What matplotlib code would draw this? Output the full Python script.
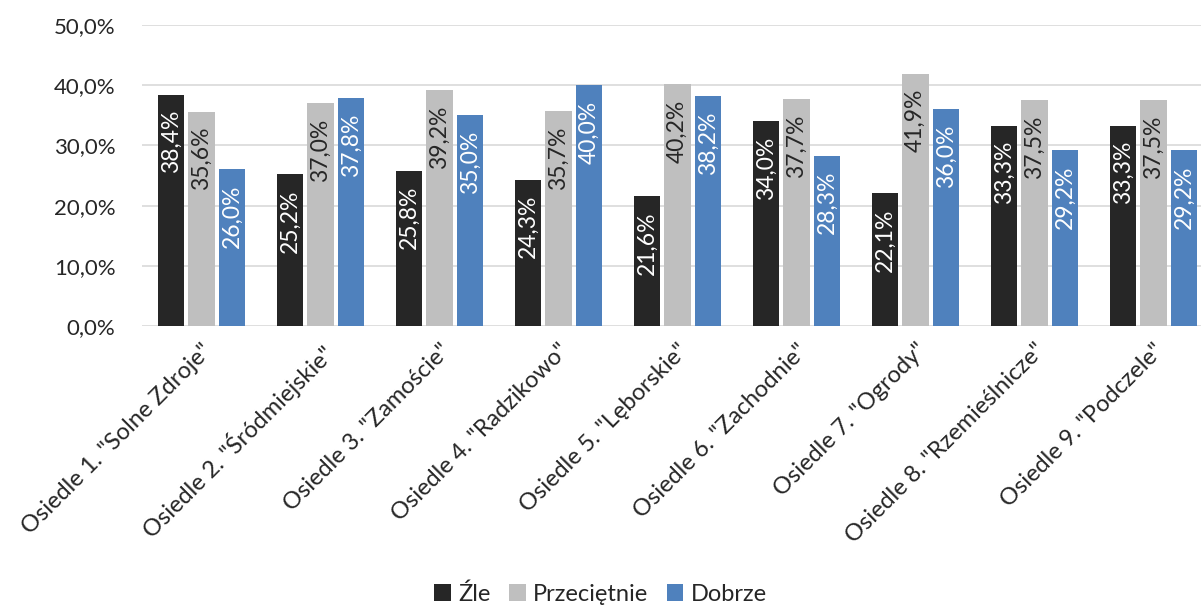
import matplotlib
matplotlib.use("Agg")
import matplotlib.pyplot as plt
import numpy as np

plt.rcParams["font.family"] = ["Lato", "DejaVu Sans"]

osiedla = ['Osiedle 1. "Solne Zdroje"', 'Osiedle 2. "Śródmiejskie"', 'Osiedle 3. "Zamoście"',
           'Osiedle 4. "Radzikowo"', 'Osiedle 5. "Lęborskie"', 'Osiedle 6. "Zachodnie"',
           'Osiedle 7. "Ogrody"', 'Osiedle 8. "Rzemieślnicze"', 'Osiedle 9. "Podczele"']
zle = [38.4, 25.2, 25.8, 24.3, 21.6, 34.0, 22.1, 33.3, 33.3]
przecietnie = [35.6, 37.0, 39.2, 35.7, 40.2, 37.7, 41.9, 37.5, 37.5]
dobrze = [26.0, 37.8, 35.0, 40.0, 38.2, 28.3, 36.0, 29.2, 29.2]

series = [("Źle", zle, "#262626", "white"),
          ("Przeciętnie", przecietnie, "#BFBFBF", "#262626"),
          ("Dobrze", dobrze, "#4F81BD", "white")]

fig = plt.figure(figsize=(12.01, 6.05), dpi=100)
ax = fig.add_axes([142 / 1201, 279 / 605, 1071 / 1201, 301 / 605])

x = np.arange(len(osiedla))
w = 0.22
step = 0.256
for i, (name, vals, col, tcol) in enumerate(series):
    pos = x + (i - 1) * step
    ax.bar(pos, vals, w, color=col, label=name, zorder=3)
    for p, v in zip(pos, vals):
        ax.annotate(f"{v:.1f}%".replace(".", ","), (p, v), xytext=(0, -11),
                    textcoords="offset points", rotation=90, ha="center", va="top",
                    fontsize=16.5, color=tcol, zorder=4)

ax.set_xlim(-0.5, len(osiedla) - 0.5)
ax.set_ylim(0, 50)
ax.set_yticks(np.arange(0, 51, 10))
ax.set_yticklabels([f"{t:.1f}%".replace(".", ",") for t in np.arange(0, 51, 10)])
ax.yaxis.grid(True, color="#D9D9D9", linewidth=1.2, zorder=0)
for s in ax.spines.values():
    s.set_visible(False)
ax.tick_params(axis="both", length=0, labelsize=16, colors="#262626")
ax.tick_params(axis="y", pad=19)
ax.set_xticks(x)
ax.set_xticklabels(osiedla, rotation=45, ha="right", rotation_mode="anchor", fontsize=17)
ax.tick_params(axis="x", pad=10)

fig.legend(loc="lower center", bbox_to_anchor=(0.5, -0.035), ncol=3, frameon=False,
           fontsize=17, handlelength=0.7, handleheight=0.7, handletextpad=0.3,
           columnspacing=0.8, labelcolor="#262626")

fig.savefig("out.png", dpi=100)
